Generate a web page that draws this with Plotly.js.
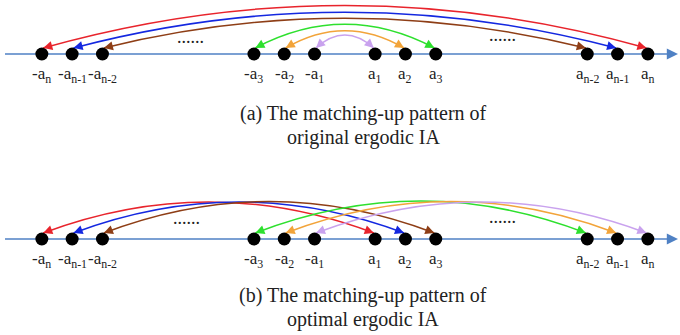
<!DOCTYPE html>
<html>
<head>
<meta charset="utf-8">
<script src="https://cdn.plot.ly/plotly-3.0.1.min.js"></script>
<style>html,body{margin:0;padding:0;background:#fff;}#chart{width:680px;height:335px;}</style>
</head>
<body>
<div id="chart"></div>
<script>
// ---- data ----
const positions = [-10, -9, -8, -3, -2, -1, 1, 2, 3, 8, 9, 10];
const pointLabels = ['-a<sub>n</sub>', '-a<sub>n-1</sub>', '-a<sub>n-2</sub>', '-a<sub>3</sub>', '-a<sub>2</sub>', '-a<sub>1</sub>',
                     'a<sub>1</sub>', 'a<sub>2</sub>', 'a<sub>3</sub>', 'a<sub>n-2</sub>', 'a<sub>n-1</sub>', 'a<sub>n</sub>'];
const topFrom = [-10, -9, -8, -3, -2, -1];
const topTo   = [10, 9, 8, 3, 2, 1];
const topPeak = [48.5, 41.7, 35.7, 29.7, 23.3, 19];
const botFrom = [-10, -9, -8, -3, -2, -1];
const botTo   = [1, 2, 3, 8, 9, 10];
const botPeak = [37, 37, 37.5, 38, 37.5, 37];
const captionA = ['(a) The matching-up pattern of', 'original ergodic IA'];
const captionB = ['(b) The matching-up pattern of', 'optimal ergodic IA'];

// ---- style ----
const arcColors = ['#e8242c', '#1428e0', '#8e3e16', '#2ee02e', '#f2a43a', '#c9a2ee'];
const axisColor = '#4f81c4';
const PX = 30.3;          // px per x unit
const END = 6;            // arc end height (top of dot)
const serif = 'Liberation Serif';

const shapes = [];
const annotations = [];

function panel(yref, from, to, peak, caption, dotsY) {
  shapes.push({type: 'line', layer: 'below', xref: 'x', yref: yref,
    x0: -11.216, x1: 10.75, y0: 0, y1: 0, line: {color: axisColor, width: 1.4}});
  annotations.push({x: 10.995, y: 0, ax: 10.6, ay: 0, xref: 'x', yref: yref, axref: 'x', ayref: yref,
    text: '', showarrow: true, arrowhead: 2, arrowsize: 1.6, arrowwidth: 1.4, arrowcolor: axisColor, standoff: 0});
  for (let i = 0; i < from.length; i++) {
    const mid = (from[i] + to[i]) / 2;
    const x0 = from[i] + 0.045 * Math.sign(mid - from[i]);
    const x1 = to[i] + 0.045 * Math.sign(mid - to[i]);
    const yc = 2 * peak[i] - END;
    shapes.push({type: 'path', layer: 'below', xref: 'x', yref: yref,
      path: `M ${x0},${END} Q ${mid},${yc} ${x1},${END}`,
      line: {color: arcColors[i], width: 1.5}});
    [x0, x1].forEach(tip => {
      const dxp = (mid - tip) * PX, dyp = yc - END;
      const len = Math.hypot(dxp, dyp), L = 7;
      annotations.push({x: tip, y: END, ax: tip + dxp / len * L / PX, ay: END + dyp / len * L,
        xref: 'x', yref: yref, axref: 'x', ayref: yref, text: '', showarrow: true,
        arrowhead: 2, arrowsize: 1.3, arrowwidth: 1.4, arrowcolor: arcColors[i], standoff: 0});
    });
  }
  positions.forEach((p, i) => annotations.push({x: p, y: -21, xref: 'x', yref: yref, text: pointLabels[i],
    showarrow: false, font: {family: serif, size: 17, color: '#222'}, xanchor: 'center', yanchor: 'middle'}));
  annotations.push({x: 0.6, y: caption.y[0], xref: 'x', yref: yref, text: caption.t[0], showarrow: false,
    font: {family: serif, size: 20, color: '#222'}, xanchor: 'center', yanchor: 'middle'});
  annotations.push({x: 0.6, y: caption.y[1], xref: 'x', yref: yref, text: caption.t[1], showarrow: false,
    font: {family: serif, size: 20, color: '#222'}, xanchor: 'center', yanchor: 'middle'});
  dotsY.forEach(d => annotations.push({x: d[0], y: d[1], xref: 'x', yref: yref, text: '......', showarrow: false,
    font: {family: serif, size: 18, color: '#222'}, xanchor: 'center', yanchor: 'middle'}));
}

panel('y', topFrom, topTo, topPeak, {t: captionA, y: [-59, -83]}, [[-5.11, 17], [5.19, 19.3]]);
panel('y2', botFrom, botTo, botPeak, {t: captionB, y: [-56, -80]}, [[-5.24, 21], [5.19, 22]]);

const traces = [
  {x: positions, y: positions.map(() => 0), xaxis: 'x', yaxis: 'y', type: 'scatter', mode: 'markers',
   marker: {color: '#000', size: 13}, hoverinfo: 'skip'},
  {x: positions, y: positions.map(() => 0), xaxis: 'x', yaxis: 'y2', type: 'scatter', mode: 'markers',
   marker: {color: '#000', size: 13}, hoverinfo: 'skip'}
];

const layout = {
  width: 680, height: 335, margin: {l: 0, r: 0, t: 0, b: 0},
  paper_bgcolor: '#fff', plot_bgcolor: '#fff', showlegend: false,
  font: {family: serif},
  xaxis: {range: [-344.85 / PX, (680 - 344.85) / PX], visible: false, fixedrange: true},
  yaxis: {domain: [175 / 335, 1], range: [-106, 54], visible: false, fixedrange: true},
  yaxis2: {domain: [0, 175 / 335], range: [-96, 79], visible: false, fixedrange: true, anchor: 'x'},
  shapes: shapes, annotations: annotations
};

Plotly.newPlot('chart', traces, layout, {displayModeBar: false, staticPlot: true});
</script>
</body>
</html>
